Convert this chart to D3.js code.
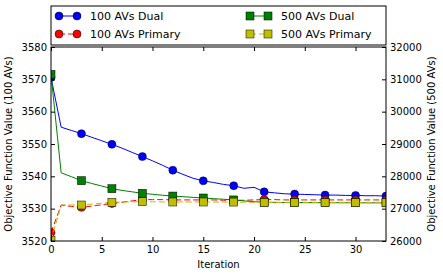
<!DOCTYPE html>
<html>
<head>
<meta charset="utf-8">
<script src="https://cdn.jsdelivr.net/npm/d3@7"></script>
<style>
  body { margin: 0; background: #fff; }
  text { font-family: "DejaVu Sans", sans-serif; fill: #000; }
</style>
</head>
<body>
<div id="chart"></div>
<script>
var W = 443, H = 278;
var margin = {top: 47, right: 57, bottom: 37, left: 51};
var width = W - margin.left - margin.right;
var height = H - margin.top - margin.bottom;

// iterations 0..33, markers every 3rd
var iterations = d3.range(0, 34);
var dual100 = [3570.6, 3555.2, 3554.2, 3553.2, 3552.1, 3551.0, 3549.9, 3548.7, 3547.4, 3546.1,
  3544.8, 3543.4, 3541.9, 3540.6, 3539.4, 3538.6, 3538.1, 3537.5, 3537.1, 3536.3,
  3536.6, 3535.2, 3534.9, 3534.6, 3534.5, 3534.4, 3534.3, 3534.2, 3534.2, 3534.1,
  3534.1, 3534.0, 3534.0, 3533.9];
var primary100 = [3522.6, 3531.1, 3530.7, 3530.4, 3530.8, 3531.2, 3531.6, 3532.0, 3532.4, 3532.8,
  3532.8, 3532.8, 3532.7, 3532.7, 3532.7, 3532.7, 3532.7, 3532.6, 3532.6, 3532.6,
  3532.7, 3532.8, 3532.8, 3532.7, 3532.7, 3532.7, 3532.7, 3532.7, 3532.7, 3532.7,
  3532.7, 3532.7, 3532.7, 3532.7];
var dual500 = [31150, 28110, 27990, 27865, 27780, 27700, 27617, 27565, 27520, 27475,
  27445, 27415, 27390, 27370, 27350, 27330, 27310, 27290, 27270, 27240,
  27215, 27200, 27195, 27192, 27190, 27188, 27186, 27185, 27184, 27183,
  27182, 27181, 27180, 27180];
var primary500 = [26010, 27115, 27114, 27113, 27140, 27170, 27196, 27205, 27212, 27216,
  27212, 27208, 27206, 27206, 27206, 27206, 27205, 27204, 27204, 27200,
  27196, 27190, 27188, 27186, 27185, 27185, 27185, 27185, 27185, 27185,
  27185, 27185, 27185, 27185];

var leftTicks = [3520, 3530, 3540, 3550, 3560, 3570, 3580];
var rightTicks = [26000, 27000, 28000, 29000, 30000, 31000, 32000];
var xTicks = [0, 5, 10, 15, 20, 25, 30];

var series = [
  {name: "100 AVs Dual", values: dual100, axis: "left", color: "#0000ff", dash: null, shape: "circle"},
  {name: "100 AVs Primary", values: primary100, axis: "left", color: "#ff0000", dash: "6,3", shape: "circle"},
  {name: "500 AVs Dual", values: dual500, axis: "right", color: "#008000", dash: null, shape: "square"},
  {name: "500 AVs Primary", values: primary500, axis: "right", color: "#bfbf00", dash: "6,3", shape: "square"}
];

var svg = d3.select("#chart").append("svg")
  .attr("width", W).attr("height", H);

var g = svg.append("g")
  .attr("transform", "translate(" + margin.left + "," + margin.top + ")");

var x = d3.scaleLinear().domain([0, 33]).range([0, width]);
var yL = d3.scaleLinear().domain([3520, 3580]).range([height, 0]);
var yR = d3.scaleLinear().domain([26000, 32000]).range([height, 0]);

g.append("clipPath").attr("id", "clip")
  .append("rect").attr("width", width).attr("height", height);

var plot = g.append("g").attr("clip-path", "url(#clip)");

series.forEach(function(s) {
  var y = s.axis == "left" ? yL : yR;
  var line = d3.line()
    .x(function(d, i) { return x(iterations[i]); })
    .y(function(d) { return y(d); });
  plot.append("path")
    .datum(s.values)
    .attr("d", line)
    .attr("fill", "none")
    .attr("stroke", s.color)
    .attr("stroke-width", 1)
    .attr("stroke-dasharray", s.dash);
  var pts = s.values.map(function(v, i) { return {x: iterations[i], y: v}; })
    .filter(function(d) { return d.x % 3 == 0; });
  if (s.shape == "circle") {
    plot.selectAll(null).data(pts).enter().append("circle")
      .attr("cx", function(d) { return x(d.x); })
      .attr("cy", function(d) { return y(d.y); })
      .attr("r", 4)
      .attr("fill", s.color).attr("stroke", "#000").attr("stroke-width", 0.5);
  } else {
    plot.selectAll(null).data(pts).enter().append("rect")
      .attr("x", function(d) { return x(d.x) - 4; })
      .attr("y", function(d) { return y(d.y) - 4; })
      .attr("width", 8).attr("height", 8)
      .attr("fill", s.color).attr("stroke", "#000").attr("stroke-width", 0.5);
  }
});

// frame
g.append("rect").attr("width", width).attr("height", height)
  .attr("fill", "none").attr("stroke", "#000").attr("stroke-width", 1);

// ticks (inward)
var fmt = d3.format("d");
function styleAxis(sel) {
  sel.select(".domain").remove();
  sel.selectAll(".tick line").attr("stroke", "#000");
  sel.selectAll(".tick text").style("font-size", "10px").style("font-family", "DejaVu Sans");
}
g.append("g").attr("transform", "translate(0," + height + ")")
  .call(d3.axisBottom(x).tickValues(xTicks).tickFormat(fmt).tickSizeInner(-4).tickSizeOuter(0).tickPadding(5))
  .call(styleAxis);
g.append("g")
  .call(d3.axisTop(x).tickValues(xTicks).tickSizeInner(-4).tickSizeOuter(0).tickFormat(""))
  .call(styleAxis);
g.append("g")
  .call(d3.axisLeft(yL).tickValues(leftTicks).tickFormat(fmt).tickSizeInner(-4).tickSizeOuter(0).tickPadding(4))
  .call(styleAxis);
g.append("g").attr("transform", "translate(" + width + ",0)")
  .call(d3.axisRight(yR).tickValues(rightTicks).tickFormat(fmt).tickSizeInner(-4).tickSizeOuter(0).tickPadding(4))
  .call(styleAxis);

// axis labels
g.append("text")
  .attr("x", width / 2).attr("y", height + 27)
  .attr("text-anchor", "middle").style("font-size", "10px")
  .text("Iteration");
g.append("text")
  .attr("transform", "translate(-39," + (height / 2) + ") rotate(-90)")
  .attr("text-anchor", "middle").style("font-size", "10px")
  .text("Objective Function Value (100 AVs)");
g.append("text")
  .attr("transform", "translate(" + (width + 49) + "," + (height / 2) + ") rotate(-90)")
  .attr("text-anchor", "middle").style("font-size", "10px")
  .text("Objective Function Value (500 AVs)");

// legend
var legend = svg.append("g");
legend.append("rect")
  .attr("x", margin.left).attr("y", 6)
  .attr("width", width).attr("height", 39)
  .attr("fill", "#fff").attr("stroke", "#000").attr("stroke-width", 1);

series.forEach(function(s, i) {
  var col = Math.floor(i / 2), row = i % 2;
  var lx = col == 0 ? 59 : 250;
  var ly = row == 0 ? 16 : 34;
  var item = legend.append("g").attr("transform", "translate(" + lx + "," + ly + ")");
  item.append("line").attr("x1", 0).attr("x2", 18).attr("y1", 0).attr("y2", 0)
    .attr("stroke", s.color).attr("stroke-width", 1).attr("stroke-dasharray", s.dash);
  [0, 18].forEach(function(mx) {
    if (s.shape == "circle") {
      item.append("circle").attr("cx", mx).attr("cy", 0).attr("r", 4)
        .attr("fill", s.color).attr("stroke", "#000").attr("stroke-width", 0.5);
    } else {
      item.append("rect").attr("x", mx - 4).attr("y", -4).attr("width", 8).attr("height", 8)
        .attr("fill", s.color).attr("stroke", "#000").attr("stroke-width", 0.5);
    }
  });
  item.append("text").attr("x", 31).attr("y", 4)
    .style("font-size", "11px").text(s.name);
});
</script>
</body>
</html>
